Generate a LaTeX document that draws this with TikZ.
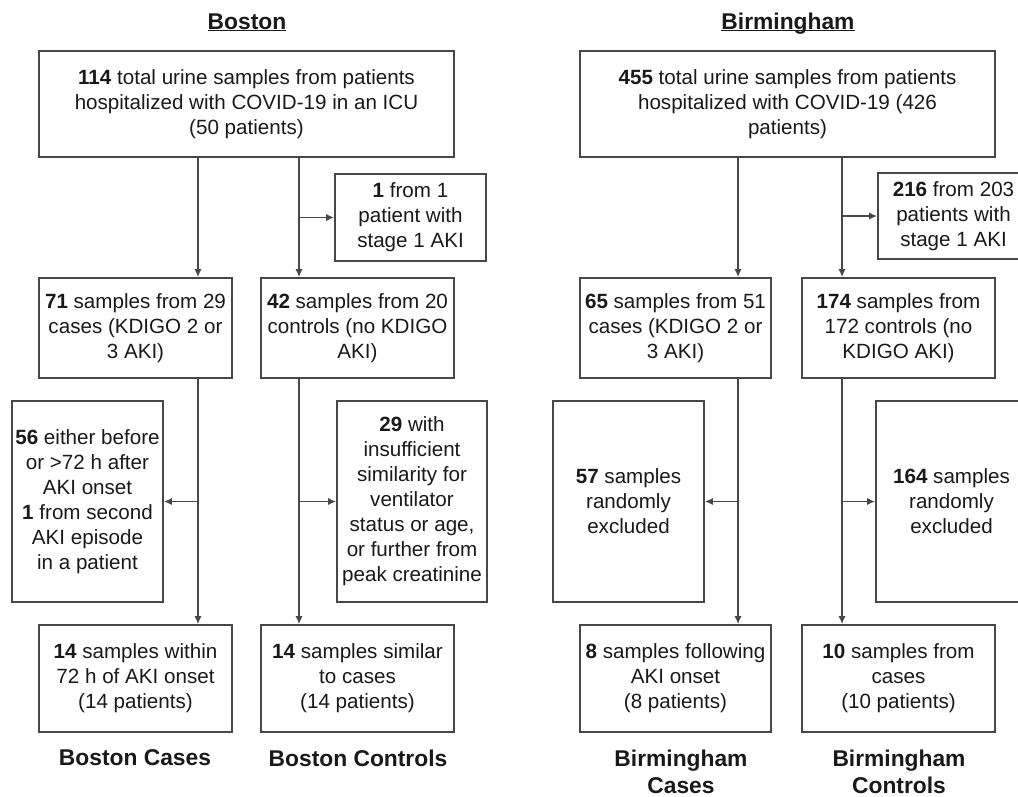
\documentclass[tikz,border=0pt]{standalone}
\usepackage{fontspec}
\setmainfont{Liberation Sans}
\usetikzlibrary{arrows.meta}
\newcommand{\fixedul}[1]{\underline{\smash{#1}}}
\definecolor{boxline}{HTML}{474747}
\tikzstyle{box}=[draw=boxline, line width=1.6pt, align=center, inner sep=0pt, text=black!90, font=\fontsize{20.6}{25}\selectfont]
\tikzstyle{wide}=[minimum width=415pt, minimum height=106pt]
\tikzstyle{mid}=[minimum width=193pt, minimum height=100pt]
\tikzstyle{final}=[minimum width=193pt, minimum height=107pt]
\tikzstyle{excl}=[minimum width=151pt, minimum height=201pt]
\tikzstyle{side}=[minimum width=151pt, minimum height=87pt]
\tikzstyle{arr}=[draw=boxline, line width=1.5pt, -{Latex[length=8pt,width=7pt]}]
\tikzstyle{head}=[align=center, text=black!90, font=\fontsize{22.8}{27}\selectfont\bfseries]

\begin{document}
\begin{tikzpicture}[x=1pt,y=-1pt]
	\clip (0,0) rectangle (1018,796);

	% Boston
	\node[head,anchor=base] (bostitle) at (247,29) {\fixedul{Boston}};
	\node[box,wide] (btop) at (246.5,104) {\textbf{114} total urine samples from patients\\hospitalized with COVID-19 in an ICU\\(50 patients)};
	\node[box,side] (bside) at (410.5,217.5) {\textbf{1} from 1\\patient with\\stage 1 AKI};
	\node[box,mid] (bcase) at (135.5,328) {\textbf{71} samples from 29\\cases (KDIGO 2 or\\3 AKI)};
	\node[box,mid] (bctrl) at (357.5,328) {\textbf{42} samples from 20\\controls (no KDIGO\\AKI)};
	\node[box,excl] (bexa) at (87.5,501.5) {\textbf{56} either before\\or >72 h after\\AKI onset\\\textbf{1} from second\\AKI episode\\in a patient};
	\node[box,excl,minimum width=150pt] (bexb) at (412,501.5) {\textbf{29} with\\insufficient\\similarity for\\ventilator\\status or age,\\or further from\\peak creatinine};
	\node[box,final] (bfca) at (135.5,678.5) {\textbf{14} samples within\\72 h of AKI onset\\(14 patients)};
	\node[box,final] (bfct) at (357.5,678.5) {\textbf{14} samples similar\\to cases\\(14 patients)};
	\node[head] (bcaselbl) at (135,758) {Boston Cases};
	\node[head] (bctrllbl) at (358,758) {Boston Controls};

	\coordinate (bl) at (198,0);
	\coordinate (br) at (299,0);
	\draw[arr] (bl |- btop.south) -- (bl |- bcase.north);
	\draw[arr] (br |- btop.south) -- (br |- bctrl.north);
	\draw[arr] (br |- bside.west) -- (bside.west);
	\draw[arr] (bl |- bcase.south) -- (bl |- bfca.north);
	\draw[arr] (br |- bctrl.south) -- (br |- bfct.north);
	\draw[arr] (bl |- bexa.east) -- (bexa.east);
	\draw[arr] (br |- bexb.west) -- (bexb.west);

	% Birmingham
	\node[head,anchor=base] (birtitle) at (788,29) {\fixedul{Birmingham}};
	\node[box,wide] (mtop) at (787.5,104) {\textbf{455} total urine samples from patients\\hospitalized with COVID-19 (426\\patients)};
	\node[box,side,minimum height=86pt] (mside) at (953.5,216) {\textbf{216} from 203\\patients with\\stage 1 AKI};
	\node[box,mid,minimum width=191pt] (mcase) at (675.5,328) {\textbf{65} samples from 51\\cases (KDIGO 2 or\\3 AKI)};
	\node[box,mid] (mctrl) at (898.5,328) {\textbf{174} samples from\\172 controls (no\\KDIGO AKI)};
	\node[box,excl] (mexa) at (628.5,501.5) {\textbf{57} samples\\randomly\\excluded};
	\node[box,excl] (mexb) at (951.5,501.5) {\textbf{164} samples\\randomly\\excluded};
	\node[box,final,minimum width=191pt] (mfca) at (675.5,678.5) {\textbf{8} samples following\\AKI onset\\(8 patients)};
	\node[box,final] (mfct) at (898.5,678.5) {\textbf{10} samples from\\cases\\(10 patients)};
	\node[head] (mcaselbl) at (681,771.5) {Birmingham\\Cases};
	\node[head] (mctrllbl) at (899,771.5) {Birmingham\\Controls};

	\coordinate (ml) at (738,0);
	\coordinate (mr) at (842,0);
	\draw[arr] (ml |- mtop.south) -- (ml |- mcase.north);
	\draw[arr] (mr |- mtop.south) -- (mr |- mctrl.north);
	\draw[arr] (mr |- mside.west) -- (mside.west);
	\draw[arr] (ml |- mcase.south) -- (ml |- mfca.north);
	\draw[arr] (mr |- mctrl.south) -- (mr |- mfct.north);
	\draw[arr] (ml |- mexa.east) -- (mexa.east);
	\draw[arr] (mr |- mexb.west) -- (mexb.west);
\end{tikzpicture}
\end{document}
